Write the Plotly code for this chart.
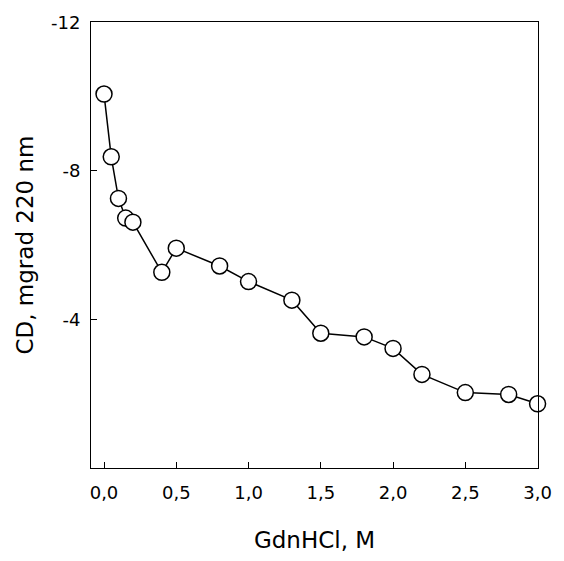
import plotly.graph_objects as go

gdnhcl = [0.0, 0.05, 0.1, 0.15, 0.2, 0.4, 0.5, 0.8, 1.0, 1.3, 1.5, 1.8, 2.0, 2.2, 2.5, 2.8, 3.0]
cd = [-10.07, -8.38, -7.26, -6.73, -6.62, -5.27, -5.92, -5.44, -5.02, -4.52, -3.63, -3.53, -3.22, -2.52, -2.03, -1.98, -1.73]

x_tickvals = [0.0, 0.5, 1.0, 1.5, 2.0, 2.5, 3.0]
x_ticktext = ["0,0", "0,5", "1,0", "1,5", "2,0", "2,5", "3,0"]
y_tickvals = [-12, -8, -4]
y_ticktext = ["-12", "-8", "-4"]

fig = go.Figure()
fig.add_trace(go.Scatter(
    x=gdnhcl, y=cd, mode="lines+markers",
    line=dict(color="black", width=1.5),
    marker=dict(size=16, color="white", line=dict(color="black", width=1.5)),
    cliponaxis=False, showlegend=False, hoverinfo="skip",
))

axis_font = dict(family="DejaVu Sans, sans-serif", size=18, color="black")
title_font = dict(family="DejaVu Sans, sans-serif", size=23, color="black")

fig.update_layout(
    width=564, height=561,
    margin=dict(l=91, r=20, t=16, b=93),
    paper_bgcolor="white", plot_bgcolor="white",
    font=axis_font,
    xaxis=dict(
        range=[-0.09, 3.003], tickvals=x_tickvals, ticktext=x_ticktext,
        ticks="inside", ticklen=6, tickcolor="black", tickwidth=1,
        showline=True, linecolor="black", linewidth=1, mirror=True,
        showgrid=False, zeroline=False, tickfont=axis_font,
        ticklabelstandoff=8,
        title=dict(text="GdnHCl, M", font=title_font, standoff=30),
    ),
    yaxis=dict(
        range=[0, -12.01], tickvals=y_tickvals, ticktext=y_ticktext,
        ticks="inside", ticklen=6, tickcolor="black", tickwidth=1,
        showline=True, linecolor="black", linewidth=1, mirror=True,
        showgrid=False, zeroline=False, tickfont=axis_font,
        ticklabelstandoff=6,
        title=dict(text="CD, mgrad 220 nm", font=title_font, standoff=10),
    ),
)

# remove the default 8px body margin so the figure fills the 564x561 window
fig.write_html("out.html", config={"displayModeBar": False},
               post_script="document.body.style.margin='0';")
